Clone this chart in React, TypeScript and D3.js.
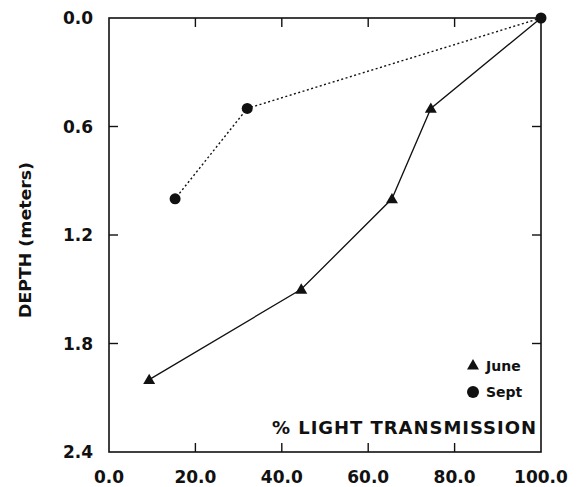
import React, { useRef, useEffect } from 'react';
import * as d3 from 'd3';

// light transmission (%) vs depth (m)
const juneLight = [100, 74.5, 65.5, 44.5, 9.3];
const juneDepth = [0, 0.5, 1.0, 1.5, 2.0];
const septLight = [100, 32, 15.3];
const septDepth = [0, 0.5, 1.0];
const xTicks = [0, 20, 40, 60, 80, 100];
const yTicks = [0, 0.6, 1.2, 1.8, 2.4];

const App = () => {
    const svgRef = useRef<SVGSVGElement>(null);
    const width = 585, height = 487;
    const margin = { top: 18, right: 44, bottom: 35, left: 109 };

    useEffect(() => {
        const svg = d3.select(svgRef.current);
        svg.selectAll('*').remove();
        const font = '"DejaVu Sans", Verdana, sans-serif';

        const x = d3.scaleLinear().domain([0, 100]).range([margin.left, width - margin.right]);
        const y = d3.scaleLinear().domain([0, 2.4]).range([margin.top, height - margin.bottom]);

        // frame
        svg.append('rect')
            .attr('x', x(0)).attr('y', y(0))
            .attr('width', x(100) - x(0)).attr('height', y(2.4) - y(0))
            .attr('fill', 'none').attr('stroke', '#111').attr('stroke-width', 1.6);

        // inward ticks on all four sides
        const tl = 9;
        xTicks.slice(1, -1).forEach(t => {
            svg.append('line').attr('x1', x(t)).attr('x2', x(t)).attr('y1', y(2.4)).attr('y2', y(2.4) - tl).attr('stroke', '#111').attr('stroke-width', 1.4);
            svg.append('line').attr('x1', x(t)).attr('x2', x(t)).attr('y1', y(0)).attr('y2', y(0) + tl).attr('stroke', '#111').attr('stroke-width', 1.4);
        });
        yTicks.slice(1, -1).forEach(t => {
            svg.append('line').attr('x1', x(0)).attr('x2', x(0) + tl).attr('y1', y(t)).attr('y2', y(t)).attr('stroke', '#111').attr('stroke-width', 1.4);
            svg.append('line').attr('x1', x(100)).attr('x2', x(100) - tl).attr('y1', y(t)).attr('y2', y(t)).attr('stroke', '#111').attr('stroke-width', 1.4);
        });

        // tick labels
        svg.selectAll('.xt').data(xTicks).enter().append('text')
            .attr('x', d => x(d)).attr('y', y(2.4) + 31)
            .attr('text-anchor', 'middle')
            .style('font-family', font).style('font-weight', 'bold').style('font-size', '17px')
            .attr('fill', '#111')
            .text(d => d.toFixed(1));
        svg.selectAll('.yt').data(yTicks).enter().append('text')
            .attr('x', x(0) - 16).attr('y', d => y(d) + 6)
            .attr('text-anchor', 'end')
            .style('font-family', font).style('font-weight', 'bold').style('font-size', '17px')
            .attr('fill', '#111')
            .text(d => d.toFixed(1));

        // axis labels
        svg.append('text')
            .attr('transform', 'translate(31,' + 240 + ') rotate(-90)')
            .attr('text-anchor', 'middle')
            .attr('textLength', 156).attr('lengthAdjust', 'spacingAndGlyphs')
            .style('font-family', font).style('font-weight', 'bold').style('font-size', '15px')
            .attr('fill', '#111')
            .text('DEPTH (meters)');
        svg.append('text')
            .attr('x', 272).attr('y', 434)
            .attr('textLength', 264).attr('lengthAdjust', 'spacing')
            .style('font-family', font).style('font-weight', 'bold').style('font-size', '18px')
            .attr('fill', '#111')
            .text('% LIGHT TRANSMISSION');

        const line = d3.line<[number, number]>().x(d => x(d[0])).y(d => y(d[1]));
        const june = juneLight.map((v, i) => [v, juneDepth[i]] as [number, number]);
        const sept = septLight.map((v, i) => [v, septDepth[i]] as [number, number]);

        svg.append('path').datum(sept).attr('d', line)
            .attr('fill', 'none').attr('stroke', '#111').attr('stroke-width', 1.4)
            .attr('stroke-dasharray', '2,2.5');
        svg.append('path').datum(june).attr('d', line)
            .attr('fill', 'none').attr('stroke', '#111').attr('stroke-width', 1.3);

        const tri = d3.symbol().type(d3.symbolTriangle).size(62);
        svg.selectAll('.jm').data(june.slice(1)).enter().append('path')
            .attr('d', tri)
            .attr('transform', d => 'translate(' + x(d[0]) + ',' + (y(d[1]) + 1) + ')')
            .attr('fill', '#111');
        svg.selectAll('.sm').data(sept).enter().append('circle')
            .attr('cx', d => x(d[0])).attr('cy', d => y(d[1])).attr('r', 5.5)
            .attr('fill', '#111');

        // legend
        svg.append('path').attr('d', tri).attr('transform', 'translate(473,366)').attr('fill', '#111');
        svg.append('circle').attr('cx', 473).attr('cy', 392).attr('r', 6).attr('fill', '#111');
        svg.append('text').attr('x', 486).attr('y', 371)
            .style('font-family', font).style('font-weight', 'bold').style('font-size', '14px')
            .attr('fill', '#111').text('June');
        svg.append('text').attr('x', 486).attr('y', 397)
            .style('font-family', font).style('font-weight', 'bold').style('font-size', '14px')
            .attr('fill', '#111').text('Sept');
    // eslint-disable-next-line
    }, []);

    return (
        <svg ref={svgRef} width={width} height={height}
            style={{ position: 'absolute', left: 0, top: 0, background: '#fff' }} />
    );
};

export default App;
